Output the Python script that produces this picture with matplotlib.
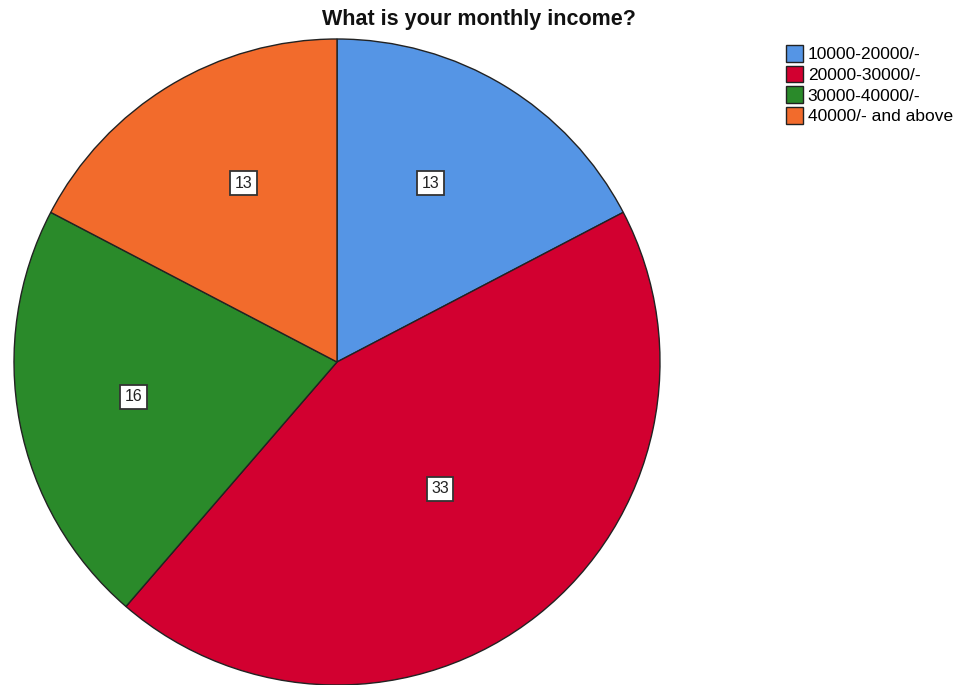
import matplotlib
matplotlib.use("Agg")
import matplotlib.pyplot as plt
import numpy as np

plt.rcParams['font.family'] = ['Liberation Sans', 'DejaVu Sans']

labels = ['10000-20000/-', '20000-30000/-', '30000-40000/-', '40000/- and above']
counts = [13, 33, 16, 13]
colors = ['#5595e5', '#d20030', '#2a8a2a', '#f26b2c']
# where the value boxes sit inside each slice (fraction of radius, angle nudge in deg)
label_dist = [0.625, 0.506, 0.64, 0.625]
label_turn = [3.6, 0.7, -1.1, -3.5]

fig = plt.figure(figsize=(9.56, 6.85), dpi=100)
# axis box placed so the pie lands where it is in the original
ax = fig.add_axes([14/956, 0.0, 646/956, 646/685])
wedges, _ = ax.pie(counts, colors=colors, startangle=90, counterclock=False,
                   radius=1, wedgeprops=dict(edgecolor='#222222', linewidth=1.0))
ax.set_xlim(-1.0, 1.0)
ax.set_ylim(-1.0, 1.0)
ax.set_aspect('equal')

for w, n, d, t in zip(wedges, counts, label_dist, label_turn):
    mid = np.deg2rad((w.theta1 + w.theta2) / 2 + t)
    ax.text(d*np.cos(mid), d*np.sin(mid), str(n), ha='center', va='center', fontsize=11.5,
            color='#222222',
            bbox=dict(boxstyle='square,pad=0.28', fc='white', ec='#333333', lw=1.3))

fig.text(479/956, 1 - 19/685, 'What is your monthly income?', ha='center', va='center',
         fontsize=15.5, fontweight='bold', color='#111111')

fig.legend(wedges, labels, loc='upper left', bbox_to_anchor=(779/956, 1 - 38/685),
           frameon=False, fontsize=12.5, handlelength=1.0, handleheight=1.1,
           handletextpad=0.25, labelspacing=0.2, borderaxespad=0)

fig.savefig('out.png', dpi=100)
